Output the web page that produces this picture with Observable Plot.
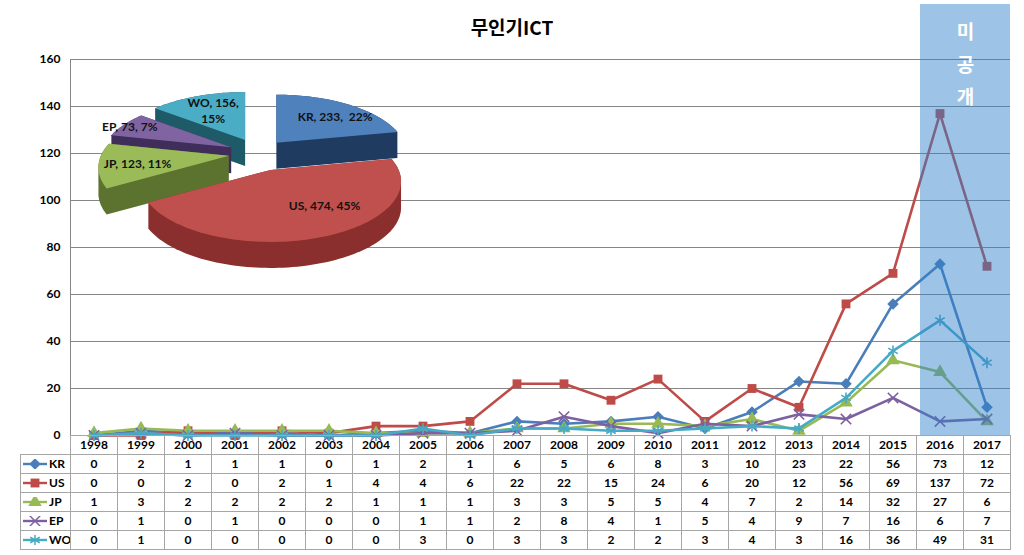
<!DOCTYPE html>
<html><head><meta charset="utf-8">
<script src="https://cdn.jsdelivr.net/npm/d3@7"></script>
<script src="https://cdn.jsdelivr.net/npm/@observablehq/plot@0.6"></script>
<style>
body{margin:0;background:#fff;}
#wrap{position:relative;width:1024px;height:555px;overflow:hidden;font-family:Lato,"Noto Sans",sans-serif;}
#title{position:absolute;left:0;top:14px;width:1024px;text-align:center;font-weight:bold;font-size:19px;line-height:26px;font-family:"Noto Sans CJK KR",sans-serif;color:#000;}
.layer{position:absolute;left:0;top:0;}
#tbl{position:absolute;left:20px;top:435px;border-collapse:collapse;table-layout:fixed;width:990px;font-family:Lato,sans-serif;font-weight:bold;font-size:12px;color:#000;}
#tbl td{padding:0;height:18px;line-height:18px;text-align:center;border:1px solid #A6A6A6;white-space:nowrap;overflow:hidden;}
#tbl td.key{text-align:left;padding-left:1px;}
#tbl td.blank{border-top:none;border-left:none;}
#tbl svg{vertical-align:middle;margin-right:1px;position:relative;top:-1px;}
</style></head>
<body><div id="wrap"><div id="title">무인기ICT</div></div>
<script>
// ---------- data ----------
const years = [1998,1999,2000,2001,2002,2003,2004,2005,2006,2007,2008,2009,2010,2011,2012,2013,2014,2015,2016,2017];
const KR = [0,2,1,1,1,0,1,2,1,6,5,6,8,3,10,23,22,56,73,12];
const US = [0,0,2,0,2,1,4,4,6,22,22,15,24,6,20,12,56,69,137,72];
const JP = [1,3,2,2,2,2,1,1,1,3,3,5,5,4,7,2,14,32,27,6];
const EP = [0,1,0,1,0,0,0,1,1,2,8,4,1,5,4,9,7,16,6,7];
const WO = [0,1,0,0,0,0,0,3,0,3,3,2,2,3,4,3,16,36,49,31];
const yTicks = [0,20,40,60,80,100,120,140,160];
const hiddenYears = [2016,2017];
const hiddenLabel = "미공개";
const pieNames = ["KR","US","JP","EP","WO"];
const pieValues = [233,474,123,73,156];
const pieLabels = ["KR, 233,  22%","US, 474, 45%","JP, 123, 11%","EP, 73, 7%","WO, 156,\n15%"];

// ---------- styles ----------
const seriesDefs = [
  {name:"KR", values:KR, color:"#4A7EBB", symbol:"diamond2", filled:true, r:5.2},
  {name:"US", values:US, color:"#BE4B48", symbol:"square", filled:true, r:5},
  {name:"JP", values:JP, color:"#98B954", symbol:"triangle", filled:true, r:5},
  {name:"EP", values:EP, color:"#7D60A0", symbol:"times", filled:false, r:4.8},
  {name:"WO", values:WO, color:"#46AAC5", symbol:"asterisk", filled:false, r:5.2}
];
const pieTop  = {KR:"#4F81BD", US:"#C0504D", JP:"#9BBB59", EP:"#8064A2", WO:"#4BACC6"};
const pieSide = {KR:"#1F3B60", US:"#8A2F2D", JP:"#5C7330", EP:"#3F2E5A", WO:"#1F5A68"};
const pieExplode = {KR:28, US:35, JP:30, EP:30, WO:30};
const pieLabelPos = {KR:{r:0.76, shift:6}, US:{r:0.6, shift:-16}, JP:{r:0.7, shift:0}, EP:{r:0.95, shift:0}, WO:{r:0.68, shift:0}};

const wrap = document.getElementById("wrap");
const W = 1024, H = 445;
const xDomain = [years[0]-0.5, years[years.length-1]+0.5];

const long = seriesDefs.flatMap(s => years.map((yr,i)=>({series:s.name, year:yr, value:s.values[i]})));

const lineMarks = seriesDefs.flatMap(s => {
  const d = long.filter(r => r.series === s.name);
  return [
    Plot.line(d, {x:"year", y:"value", stroke:s.color, strokeWidth:2.6}),
    Plot.dot(d, {x:"year", y:"value", symbol:s.symbol, r:s.r,
      fill: s.filled ? s.color : "none", stroke: s.filled ? "none" : s.color, strokeWidth:1.6})
  ];
});

const main = Plot.plot({
  width: W, height: H,
  marginLeft: 70, marginRight: 14, marginTop: 59, marginBottom: 10,
  x: {domain: xDomain, axis: null},
  y: {domain: [0,160], axis: null},
  style: {background:"transparent", overflow:"visible"},
  marks: [
    Plot.ruleY(yTicks, {stroke:"#868686", strokeWidth:1}),
    Plot.ruleX([xDomain[0]], {stroke:"#868686", strokeWidth:1}),
    Plot.text(yTicks, {y: d=>d, frameAnchor:"left", dx:-10, textAnchor:"end", text: d=>String(d),
      fontWeight:"bold", fontSize:12, fontFamily:"Lato, sans-serif", fill:"#000"}),
    ...lineMarks,
    Plot.rect([hiddenYears], {x1: d=>d3.min(d)-0.5, x2: d=>d3.max(d)+0.5, y1: 0, y2: 160,
      insetTop: -55, insetLeft: 4, fill: "rgb(51,130,203)", fillOpacity: 0.48}),
    Plot.text([hiddenLabel], {x: d3.mean(hiddenYears), y: 160, dx: 2, dy: -43,
      text: d => d.split("").join("\n"), lineAnchor:"top", lineHeight:1.7,
      fill:"#fff", fontSize:19, fontWeight:"bold", fontFamily:"Noto Sans CJK KR, sans-serif"})
  ]
});
main.classList.add("layer");
wrap.appendChild(main);

// ---------- 3D pie ----------
const C = [258, 153], RX = 128, RY = 60, DEPTH = 26, PERSP = 0.2;
const arcs = d3.pie().sort(null).value(d=>d.value)(pieNames.map((n,i)=>({name:n, value:pieValues[i], label:pieLabels[i]})));
const k = t => 1 - PERSP*Math.cos(t);
const slices = arcs.map(a => {
  const n = a.data.name, m = (a.startAngle + a.endAngle)/2, e = pieExplode[n];
  const apex = [C[0] + e*Math.sin(m), C[1] - e*Math.cos(m)*0.5];
  const pts = [apex];
  const steps = Math.max(6, Math.ceil((a.endAngle - a.startAngle)/0.03));
  for (let j = 0; j <= steps; j++) {
    const t = a.startAngle + (a.endAngle - a.startAngle)*j/steps;
    pts.push([apex[0] + k(t)*RX*Math.sin(t), apex[1] - k(t)*RY*Math.cos(t)]);
  }
  const shifted = pts.map(p => [p[0], p[1] + DEPTH]);
  const hull = d3.polygonHull(pts.concat(shifted));
  const lp = pieLabelPos[n], lm = m + lp.shift*Math.PI/180;
  const lab = [apex[0] + lp.r*k(m)*RX*Math.sin(lm), apex[1] - lp.r*k(m)*RY*Math.cos(lm)];
  return {name:n, apex, top:pts, side:hull, lab, label:a.data.label};
}).sort((a,b) => a.apex[1] - b.apex[1]);

const pieMarks = slices.flatMap(s => [
  Plot.line(s.side, {x: d=>d[0], y: d=>d[1], fill: pieSide[s.name], stroke: "none"}),
  Plot.line(s.top, {x: d=>d[0], y: d=>d[1], fill: pieTop[s.name], stroke: "none"})
]);
pieMarks.push(Plot.text(slices, {x: d=>d.lab[0], y: d=>d.lab[1], text:"label",
  fontSize: 12, fontWeight:"bold", fontFamily:"Lato, sans-serif", fill:"#111", lineHeight:1.35}));

const pie = Plot.plot({
  width: W, height: H, margin: 0,
  x: {type:"identity", axis:null}, y: {type:"identity", axis:null},
  style: {background:"transparent", overflow:"visible"},
  marks: pieMarks
});
pie.classList.add("layer");
wrap.appendChild(pie);

// ---------- data table ----------
function keySvg(s) {
  const sym = {diamond2:d3.symbolDiamond2, square:d3.symbolSquare, triangle:d3.symbolTriangle, times:d3.symbolTimes, asterisk:d3.symbolAsterisk}[s.symbol];
  const area = Math.PI * s.r * s.r;
  const p = d3.symbol(sym, area)();
  return `<svg width="26" height="10" viewBox="0 0 26 10"><line x1="1" y1="5" x2="25" y2="5" stroke="${s.color}" stroke-width="2.4"/>`+
    `<path transform="translate(13,5)" d="${p}" fill="${s.filled?s.color:"none"}" stroke="${s.filled?"none":s.color}" stroke-width="1.5"/></svg>`;
}
const tbl = document.createElement("table");
tbl.id = "tbl";
let html = `<colgroup><col style="width:50px">${years.map(()=>'<col style="width:47px">').join("")}</colgroup>`;
html += `<tr><td class="blank"></td>${years.map(y=>`<td>${y}</td>`).join("")}</tr>`;
for (const s of seriesDefs) {
  html += `<tr><td class="key">${keySvg(s)}${s.name}</td>${s.values.map(v=>`<td>${v}</td>`).join("")}</tr>`;
}
tbl.innerHTML = html;
wrap.appendChild(tbl);
</script>
</body></html>
